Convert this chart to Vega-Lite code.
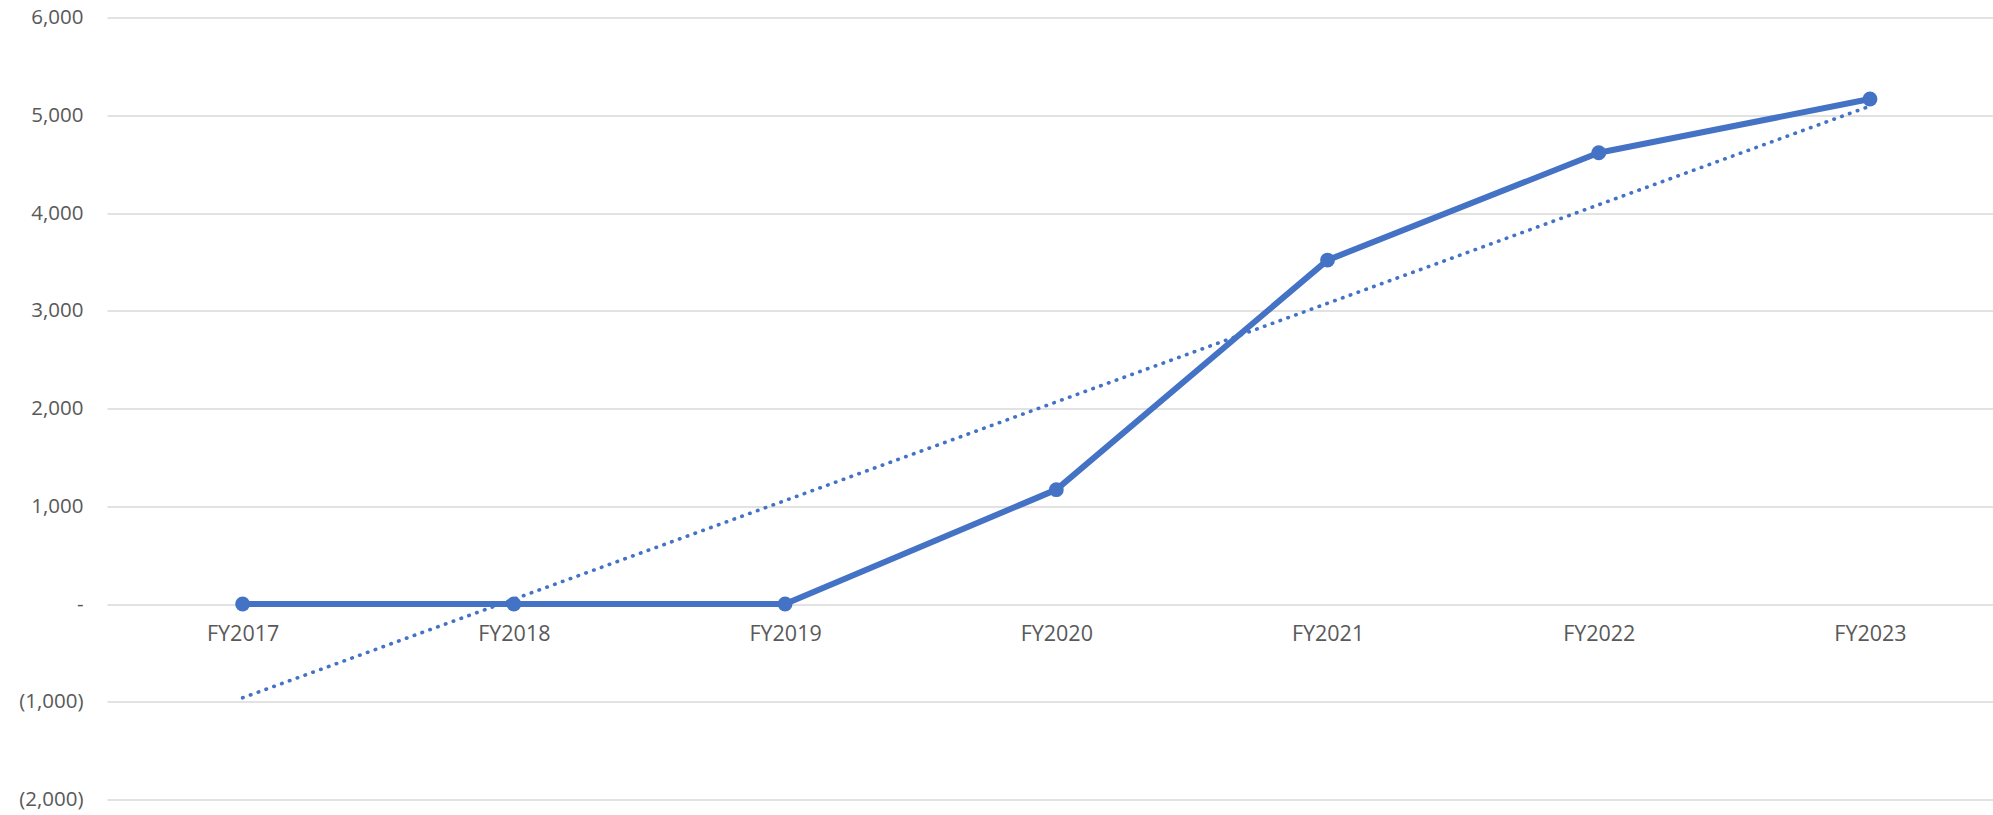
{
  "$schema": "https://vega.github.io/schema/vega-lite/v6.json",
  "autosize": "none",
  "width": 1886,
  "height": 782,
  "padding": {"left": 107, "top": 17.5, "right": 0, "bottom": 15.5},
  "background": "white",
  "data": {
    "values": [
      {"year": 2017, "value": 0},
      {"year": 2018, "value": 0},
      {"year": 2019, "value": 0},
      {"year": 2020, "value": 1170},
      {"year": 2021, "value": 3518},
      {"year": 2022, "value": 4616},
      {"year": 2023, "value": 5166}
    ]
  },
  "config": {
    "view": {"stroke": null},
    "font": "Open Sans",
    "axis": {
      "labelFont": "Open Sans",
      "labelFontSize": 21.5,
      "labelColor": "#595959",
      "domain": false,
      "ticks": false,
      "tickSize": 0,
      "title": null
    }
  },
  "encoding": {
    "x": {
      "field": "year",
      "type": "quantitative",
      "scale": {"domain": [2016.5, 2023.4535], "nice": false, "zero": false},
      "axis": {
        "orient": "bottom",
        "offset": -195.8,
        "values": [2017, 2018, 2019, 2020, 2021, 2022, 2023],
        "labelExpr": "'FY' + datum.value",
        "labelPadding": 31,
        "labelBaseline": "middle",
        "labelFlush": false,
        "labelOverlap": false,
        "grid": false
      }
    },
    "y": {
      "field": "value",
      "type": "quantitative",
      "scale": {"domain": [-2000, 6000], "nice": false},
      "axis": {
        "values": [-2000, -1000, 0, 1000, 2000, 3000, 4000, 5000, 6000],
        "labelExpr": "datum.value == 0 ? '-\u2007\u2009' : (datum.value < 0 ? '(' + format(-datum.value, ',') + ')' : format(datum.value, ',') + '\u2009')",
        "labelFontSize": 20.5,
        "labelPadding": 24,
        "labelAlign": "right",
        "labelBaseline": "middle",
        "grid": true,
        "gridColor": "#d9d9d9",
        "gridWidth": 1.6
      }
    }
  },
  "layer": [
    {
      "transform": [{"regression": "value", "on": "year"}],
      "mark": {
        "type": "line",
        "color": "#4472C4",
        "strokeWidth": 3.6,
        "strokeCap": "round",
        "strokeDash": [0.5, 7.8]
      }
    },
    {
      "mark": {
        "type": "line",
        "color": "#4472C4",
        "strokeWidth": 6,
        "strokeJoin": "round",
        "point": {"filled": true, "size": 220, "color": "#4472C4", "opacity": 1}
      }
    }
  ]
}
